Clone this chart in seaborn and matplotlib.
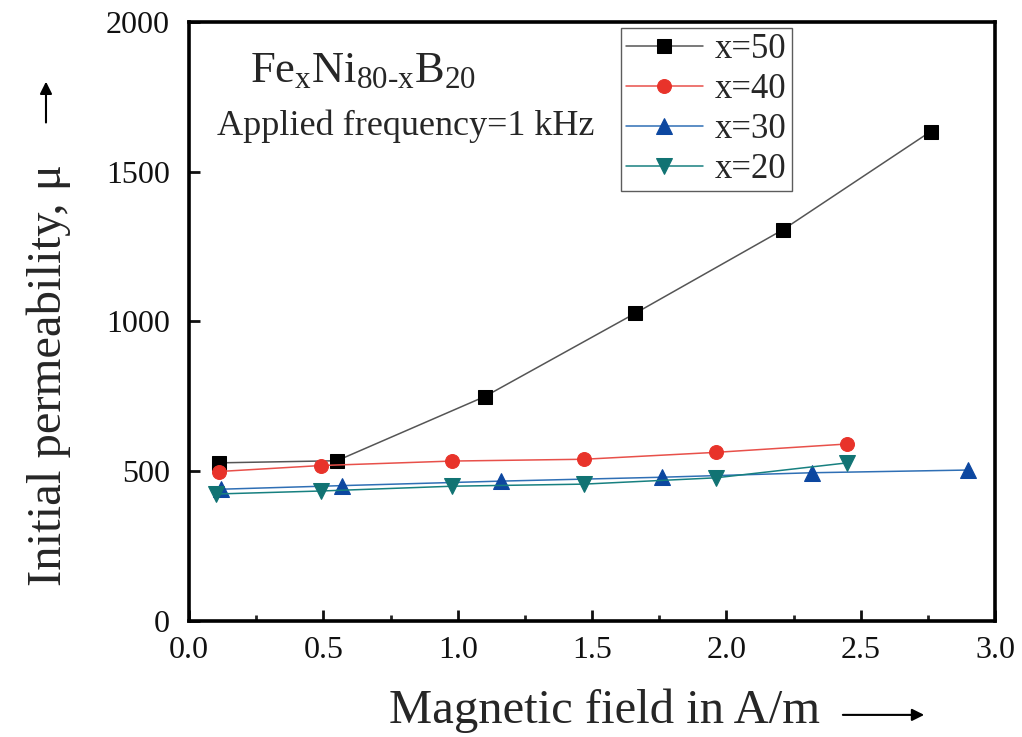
import matplotlib
matplotlib.use("Agg")
import matplotlib.pyplot as plt
import seaborn as sns
import pandas as pd
from matplotlib.ticker import MultipleLocator

# ---- data ----
labels = ["x=50", "x=40", "x=30", "x=20"]
x50_h = [0.11, 0.55, 1.10, 1.66, 2.21, 2.76]
x50_mu = [528, 535, 749, 1027, 1306, 1634]
x40_h = [0.11, 0.49, 0.98, 1.47, 1.96, 2.45]
x40_mu = [499, 519, 534, 540, 563, 591]
x30_h = [0.12, 0.57, 1.16, 1.76, 2.32, 2.90]
x30_mu = [440, 452, 467, 480, 495, 504]
x20_h = [0.10, 0.49, 0.98, 1.47, 1.96, 2.45]
x20_mu = [424, 434, 450, 457, 478, 528]
xtick_labels = ["0.0", "0.5", "1.0", "1.5", "2.0", "2.5", "3.0"]

series_h = [x50_h, x40_h, x30_h, x20_h]
series_mu = [x50_mu, x40_mu, x30_mu, x20_mu]

rows = []
for lab, hs, ms in zip(labels, series_h, series_mu):
    for h, m in zip(hs, ms):
        rows.append({"H": h, "mu": m, "series": lab})
df = pd.DataFrame(rows)

sns.set_theme(style="white")
plt.rcParams["font.family"] = ["Liberation Serif", "DejaVu Serif"]
plt.rcParams["mathtext.fontset"] = "custom"
plt.rcParams["mathtext.rm"] = "Liberation Serif"
plt.rcParams["mathtext.it"] = "Liberation Serif"

fig = plt.figure(figsize=(10.22, 7.37), dpi=100)
ax = fig.add_axes([0.185, 0.1574, 0.7886, 0.8128])

line_colors = {"x=50": "#555555", "x=40": "#e8504a", "x=30": "#2f6fb5", "x=20": "#178080"}
marker_colors = {"x=50": "#000000", "x=40": "#e8332a", "x=30": "#0c47a0", "x=20": "#117373"}
markers = {"x=50": "s", "x=40": "o", "x=30": "^", "x=20": "v"}
marker_sizes = {"x=50": 10, "x=40": 10, "x=30": 11, "x=20": 11}

for lab in labels:
    sub = df[df["series"] == lab]
    sns.lineplot(data=sub, x="H", y="mu", ax=ax, color=line_colors[lab],
                 marker=markers[lab], markersize=marker_sizes[lab],
                 markerfacecolor=marker_colors[lab],
                 markeredgecolor=marker_colors[lab], linewidth=1.1, label=lab,
                 sort=False, estimator=None)

ax.set_xlim(0, 3.0)
ax.set_ylim(0, 2000)
ax.xaxis.set_major_locator(MultipleLocator(0.5))
ax.xaxis.set_minor_locator(MultipleLocator(0.25))
ax.yaxis.set_major_locator(MultipleLocator(500))
ax.set_xticks([0, 0.5, 1.0, 1.5, 2.0, 2.5, 3.0])
ax.set_xticklabels(xtick_labels)
ax.tick_params(axis="both", which="major", direction="in", length=8, width=2,
               labelsize=23, colors="#111111")
ax.tick_params(axis="x", which="major", pad=11, bottom=True)
ax.tick_params(axis="y", which="major", pad=14, left=True)
ax.tick_params(axis="x", which="minor", direction="in", length=4, width=2, bottom=True)
for sp in ax.spines.values():
    sp.set_linewidth(2.6)
    sp.set_color("#000000")

ax.set_xlabel("Magnetic field in A/m", fontsize=35)
ax.xaxis.set_label_coords(0.515, -0.113)
ax.set_ylabel("Initial permeability, μ", fontsize=35)
ax.yaxis.set_label_coords(-0.146, 0.41)

# arrows in the axis labels
ax.annotate("", xy=(0.907, 0.03), xytext=(0.822, 0.03), xycoords="figure fraction",
            arrowprops=dict(arrowstyle="-|>", color="black", lw=1.5, mutation_scale=18))
ax.annotate("", xy=(0.045, 0.893), xytext=(0.045, 0.83), xycoords="figure fraction",
            arrowprops=dict(arrowstyle="-|>", color="black", lw=1.5, mutation_scale=18))

ax.text(0.075, 0.918, r"Fe$_{\rm x}$Ni$_{\rm 80‐x}$B$_{\rm 20}$", transform=ax.transAxes,
        fontsize=32, ha="left", va="center")
ax.text(0.035, 0.826, "Applied frequency=1 kHz", transform=ax.transAxes,
        fontsize=26, ha="left", va="center")

leg = ax.legend(loc="upper left", bbox_to_anchor=(0.536, 0.99), fontsize=25,
                frameon=True, fancybox=False, edgecolor="#333333", handlelength=2.2,
                borderpad=0.15, labelspacing=0.2, handletextpad=0.35, borderaxespad=0)
leg.get_frame().set_linewidth(1.0)

fig.savefig("out.png", dpi=100)
